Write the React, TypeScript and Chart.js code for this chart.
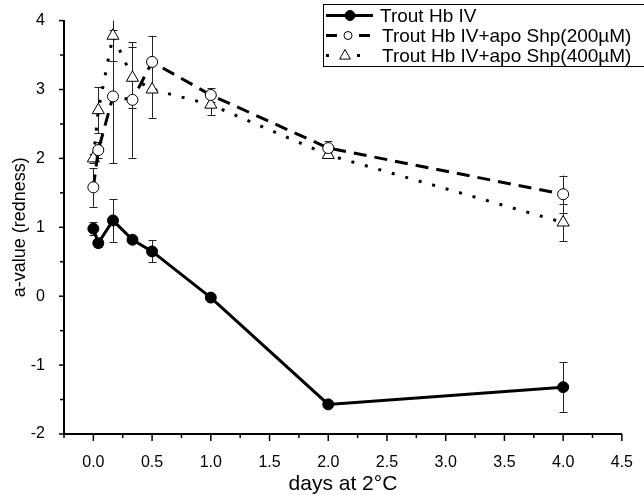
import React, { useEffect, useRef } from "react";
import { Chart, registerables } from "chart.js";

Chart.register(...registerables);

// ---- data ----
const days = [0, 0.042, 0.167, 0.333, 0.5, 1, 2, 4];
const hbIV = [0.98, 0.77, 1.1, 0.82, 0.65, -0.02, -1.57, -1.32];
const hbIVErr = [0.09, 0.06, 0.31, 0.05, 0.16, 0.04, 0.04, 0.36];
const shp200 = [1.58, 2.12, 2.9, 2.85, 3.4, 2.92, 2.15, 1.48];
const shp200Err = [0.28, 0.12, 0.97, 0.84, 0.38, 0.1, 0.1, 0.27];
const shp400 = [2.0, 2.7, 3.78, 3.17, 3.0, 2.78, 2.05, 1.07];
const shp400Err = [0.06, 0.33, 0.37, 0.44, 0.41, 0.15, 0.05, 0.27];
const seriesLabels = [
  "Trout Hb IV",
  "Trout Hb IV+apo Shp(200\u00b5M)",
  "Trout Hb IV+apo Shp(400\u00b5M)",
];
const errorSets = [hbIVErr, shp200Err, shp400Err];
const xTitle = "days at 2\u00b0C";
const yTitle = "a-value (redness)";

const FONT = "'Liberation Sans', Arial, Helvetica, sans-serif";

const isMultiple = (v: number, step: number) =>
  Math.abs(v / step - Math.round(v / step)) < 1e-6;

const errorBarsPlugin = {
  id: "errorBars",
  beforeDatasetsDraw(chart: any) {
    const { ctx, chartArea, scales } = chart;
    const x = scales.x;
    const y = scales.y;
    ctx.save();
    ctx.beginPath();
    ctx.rect(chartArea.left, chartArea.top, chartArea.width, chartArea.height);
    ctx.clip();
    ctx.strokeStyle = "#222";
    ctx.lineWidth = 1;
    chart.data.datasets.forEach((ds: any, i: number) => {
      const errs = errorSets[i];
      ds.data.forEach((p: any, j: number) => {
        const e = errs[j];
        const px = Math.round(x.getPixelForValue(p.x)) + 0.5;
        const top = y.getPixelForValue(p.y + e);
        const bot = y.getPixelForValue(p.y - e);
        ctx.beginPath();
        ctx.moveTo(px, top);
        ctx.lineTo(px, bot);
        ctx.moveTo(px - 4, Math.round(top) + 0.5);
        ctx.lineTo(px + 4, Math.round(top) + 0.5);
        ctx.moveTo(px - 4, Math.round(bot) + 0.5);
        ctx.lineTo(px + 4, Math.round(bot) + 0.5);
        ctx.stroke();
      });
    });
    ctx.restore();
  },
};

const tickMarksPlugin = {
  id: "tickMarks",
  afterDraw(chart: any) {
    const { ctx, chartArea, scales } = chart;
    const x = scales.x;
    const y = scales.y;
    ctx.save();
    ctx.strokeStyle = "#000";
    ctx.lineWidth = 1.5;
    x.ticks.forEach((t: any) => {
      const px = x.getPixelForValue(t.value);
      const len = isMultiple(t.value, 0.5) ? 7 : 4;
      ctx.beginPath();
      ctx.moveTo(px, chartArea.bottom);
      ctx.lineTo(px, chartArea.bottom + len);
      ctx.stroke();
    });
    y.ticks.forEach((t: any) => {
      const py = y.getPixelForValue(t.value);
      const len = isMultiple(t.value, 1) ? 5 : 4;
      ctx.beginPath();
      ctx.moveTo(chartArea.left, py);
      ctx.lineTo(chartArea.left - len, py);
      ctx.stroke();
    });
    ctx.restore();
  },
};

const legendPlugin = {
  id: "boxLegend",
  afterDraw(chart: any) {
    const { ctx } = chart;
    const boxLeft = 323.5;
    const boxTop = 4.5;
    const rowH = 20;
    const rows = chart.data.datasets.length;
    ctx.save();
    ctx.fillStyle = "#fff";
    ctx.fillRect(boxLeft, boxTop, 400, rows * rowH + 2);
    ctx.strokeStyle = "#000";
    ctx.lineWidth = 1;
    ctx.strokeRect(boxLeft, boxTop, 400, rows * rowH + 2);
    chart.data.datasets.forEach((ds: any, i: number) => {
      const cy = boxTop + 1 + rowH * i + rowH / 2;
      // line sample
      ctx.save();
      ctx.strokeStyle = "#000";
      ctx.lineWidth = 3;
      ctx.setLineDash([]);
      ctx.lineCap = "butt";
      ctx.beginPath();
      if (i === 0) {
        ctx.moveTo(326, cy);
        ctx.lineTo(373, cy);
      } else if (i === 1) {
        ctx.moveTo(326, cy);
        ctx.lineTo(337, cy);
        ctx.moveTo(359, cy);
        ctx.lineTo(370, cy);
      } else {
        ctx.moveTo(326, cy);
        ctx.lineTo(329, cy);
        ctx.moveTo(357, cy);
        ctx.lineTo(360, cy);
      }
      ctx.stroke();
      ctx.restore();
      // marker
      ctx.save();
      ctx.lineWidth = 1;
      ctx.strokeStyle = "#000";
      ctx.fillStyle = ds.pointBackgroundColor;
      const mx = i === 0 ? 350 : i === 1 ? 348 : 345;
      if (ds.pointStyle === "triangle") {
        const r = 6;
        ctx.beginPath();
        ctx.moveTo(mx, cy - r);
        ctx.lineTo(mx + r * 0.9, cy + r * 0.6);
        ctx.lineTo(mx - r * 0.9, cy + r * 0.6);
        ctx.closePath();
      } else {
        ctx.beginPath();
        ctx.arc(mx, cy, i === 0 ? 5 : 4, 0, Math.PI * 2);
      }
      ctx.fill();
      ctx.stroke();
      ctx.restore();
      // text
      ctx.fillStyle = "#000";
      ctx.font = `19px ${FONT}`;
      ctx.textBaseline = "middle";
      ctx.textAlign = "left";
      ctx.fillText(ds.label, i === 0 ? 380 : 382, cy + 1);
    });
    ctx.restore();
  },
};

export default function App() {
  const ref = useRef<HTMLCanvasElement | null>(null);

  useEffect(() => {
    if (!ref.current) return;
    const mk = (ys: number[]) => days.map((d, i) => ({ x: d, y: ys[i] }));
    const chart = new Chart(ref.current, {
      type: "line",
      data: {
        datasets: [
          {
            label: seriesLabels[0],
            data: mk(hbIV),
            borderColor: "#000",
            borderWidth: 3,
            pointStyle: "circle",
            pointRadius: 5.5,
            pointBackgroundColor: "#000",
            pointBorderColor: "#000",
            pointBorderWidth: 1,
            tension: 0,
          },
          {
            label: seriesLabels[1],
            data: mk(shp200),
            borderColor: "#000",
            borderWidth: 3,
            borderDash: [13, 8],
            pointStyle: "circle",
            pointRadius: 5.5,
            pointBackgroundColor: "#fff",
            pointBorderColor: "#000",
            pointBorderWidth: 1,
            tension: 0,
          },
          {
            label: seriesLabels[2],
            data: mk(shp400),
            borderColor: "#000",
            borderWidth: 3,
            borderDash: [3, 11],
            pointStyle: "triangle",
            pointRadius: 7,
            pointBackgroundColor: "#fff",
            pointBorderColor: "#000",
            pointBorderWidth: 1,
            tension: 0,
          },
        ],
      },
      options: {
        responsive: false,
        animation: false,
        devicePixelRatio: 1,
        layout: { padding: { top: 19, right: 18, left: 0, bottom: 0 } },
        plugins: {
          legend: { display: false },
          tooltip: { enabled: false },
        },
        scales: {
          x: {
            type: "linear",
            min: -0.25,
            max: 4.5,
            grid: { display: false },
            border: { display: true, color: "#000", width: 2 },
            ticks: {
              stepSize: 0.25,
              autoSkip: false,
              maxRotation: 0,
              padding: 11,
              color: "#000",
              font: { family: FONT, size: 16 },
              callback: (v: any) =>
                isMultiple(Number(v), 0.5) ? Number(v).toFixed(1) : "",
            },
            title: {
              display: true,
              text: xTitle,
              color: "#000",
              font: { family: FONT, size: 21, lineHeight: 1 },
              padding: { top: 0, bottom: 0 },
            },
            afterFit: (s: any) => {
              s.height = 61;
            },
          },
          y: {
            type: "linear",
            min: -2,
            max: 4,
            grid: { display: false },
            border: { display: true, color: "#000", width: 2 },
            ticks: {
              stepSize: 0.5,
              autoSkip: false,
              padding: 11,
              color: "#000",
              font: { family: FONT, size: 16 },
              callback: (v: any) =>
                isMultiple(Number(v), 1) ? String(Math.round(Number(v))) : "",
            },
            title: {
              display: true,
              text: yTitle,
              color: "#000",
              font: { family: FONT, size: 18, lineHeight: 1 },
              padding: { top: 11, bottom: 0 },
            },
            afterFit: (s: any) => {
              s.width = 64;
            },
          },
        },
      },
      plugins: [errorBarsPlugin, tickMarksPlugin, legendPlugin],
    } as any);
    return () => chart.destroy();
  }, []);

  return (
    <div
      style={{
        position: "fixed",
        left: 0,
        top: 0,
        width: 644,
        height: 495,
        background: "#fff",
      }}
    >
      <canvas ref={ref} width={644} height={495} style={{ display: "block" }} />
    </div>
  );
}
